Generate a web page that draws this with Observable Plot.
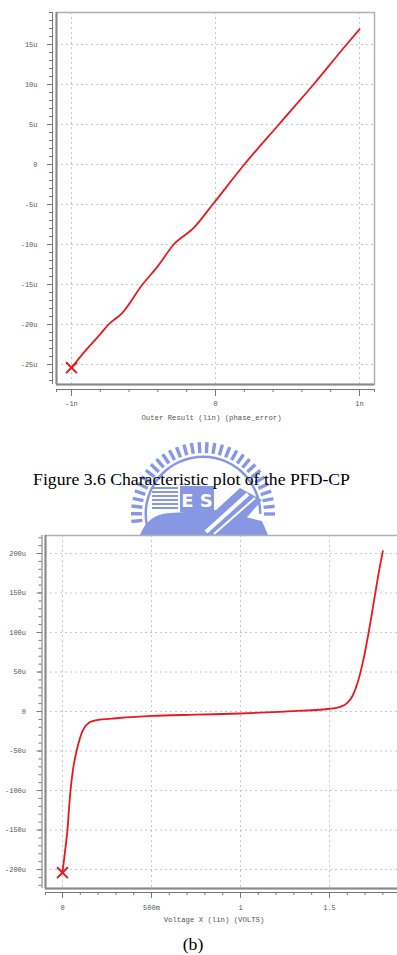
<!DOCTYPE html>
<html>
<head>
<meta charset="utf-8">
<script src="https://cdn.jsdelivr.net/npm/d3@7"></script>
<script src="https://cdn.jsdelivr.net/npm/@observablehq/plot@0.6"></script>
<style>
html, body { margin: 0; padding: 0; background: #fff; }
body { width: 397px; height: 955px; overflow: hidden; position: relative; }
#overlay { position: absolute; left: 0; top: 0; }
.chart { position: absolute; left: 0; }
</style>
</head>
<body>
<svg id="overlay" width="397" height="955"></svg>
<div id="topChart" class="chart" style="top:0px"></div>
<div id="botChart" class="chart" style="top:525px"></div>
<script>
// ---------- Data: top chart (PFD-CP characteristic) ----------
const topPhaseErr = [-1, -0.9, -0.8, -0.743, -0.65, -0.507, -0.4, -0.29, -0.15, -0.02, 0.2, 0.44, 0.68, 0.91, 1.0]; // n
const topCurrent  = [-25.4, -23.2, -21.2, -20, -18.6, -15, -12.7, -10, -7.9, -5, 0, 5, 10, 15, 16.9]; // u
const topXDomain = [-1.104, 1.104];
const topYDomain = [-27.5, 19];
const topXTicks = [-1, 0, 1];
const topXTickLabels = ["-1n", "0", "1n"];
const topYTicks = [15, 10, 5, 0, -5, -10, -15, -20, -25];
const topYTickLabels = ["15u", "10u", "5u", "0", "-5u", "-10u", "-15u", "-20u", "-25u"];
const topXTitle = "Outer Result (lin) (phase_error)";

// ---------- Data: bottom chart (b) ----------
const botVoltage = [0, 0.01, 0.02, 0.028, 0.036, 0.045, 0.058, 0.079, 0.095, 0.11, 0.13, 0.15, 0.18, 0.22, 0.3, 0.5, 0.75, 1.0, 1.25, 1.5, 1.56, 1.6, 1.63, 1.66, 1.69, 1.72, 1.75, 1.78, 1.80];
const botCurrent = [-204, -185, -166, -150, -125, -100, -75, -50, -36, -26, -18, -14, -11.5, -10, -8.5, -5.5, -4, -2.5, 0, 3.5, 6, 11, 20, 38, 65, 100, 140, 180, 203];
const botXDomain = [-0.0955, 1.899];
const botYDomain = [-224, 222.8];
const botXTicks = [0, 0.5, 1, 1.5];
const botXTickLabels = ["0", "500m", "1", "1.5"];
const botYTicks = [200, 150, 100, 50, 0, -50, -100, -150, -200];
const botYTickLabels = ["200u", "150u", "100u", "50u", "0", "-50u", "-100u", "-150u", "-200u"];
const botXTitle = "Voltage X (lin) (VOLTS)";

const captionTop = "Figure 3.6 Characteristic plot of the PFD-CP";
const captionBot = "(b)";

// ---------- Styles ----------
const RED = "#e8191e";
const GRID = "#c8c8c8";
const AXIS = "#777";
const LABEL = "#555";
const MONO = "'Liberation Mono', 'DejaVu Sans Mono', monospace";

function fmtMap(vals, labels) {
  const m = new Map(vals.map((v, i) => [v, labels[i]]));
  return d => m.get(d) ?? "";
}

function makeChart(cfg) {
  const data = cfg.xs.map((x, i) => ({x, y: cfg.ys[i]}));
  return Plot.plot({
    width: cfg.width, height: cfg.height,
    marginLeft: cfg.ml, marginRight: cfg.mr, marginTop: cfg.mt, marginBottom: cfg.mb,
    style: {background: "transparent", fontFamily: MONO, fontSize: "7px", color: LABEL, maxWidth: "none", overflow: "visible"},
    x: {domain: cfg.xDomain, axis: null, label: null},
    y: {domain: cfg.yDomain, axis: null, label: null},
    marks: [
      Plot.gridX(cfg.xTicks, {stroke: GRID, strokeOpacity: 1, strokeDasharray: "2,3"}),
      Plot.gridY(cfg.yTicks, {stroke: GRID, strokeOpacity: 1, strokeDasharray: "2,3"}),
      Plot.frame({stroke: "#b0b0b0", strokeWidth: 1.5}),
      Plot.ruleX([cfg.xDomain[0]], {stroke: "#8a8a8a", strokeWidth: 2}),
      Plot.ruleY([cfg.yDomain[0]], {stroke: "#8a8a8a", strokeWidth: 2}),
      // x axis (offset below frame)
      Plot.ruleY([cfg.yDomain[0]], {dy: cfg.xOff, stroke: AXIS, strokeWidth: 1}),
      Plot.axisX(cfg.xMinor, {anchor: "bottom", label: null, dy: cfg.xOff, tickSize: 3, stroke: AXIS, tickFormat: () => ""}),
      Plot.axisX(cfg.xTicks, {anchor: "bottom", label: null, dy: cfg.xOff, tickSize: cfg.xMajorSize, tickPadding: cfg.xPad, stroke: AXIS, fill: LABEL, fontSize: 7, tickFormat: fmtMap(cfg.xTicks, cfg.xLabels)}),
      // y axis (offset left of frame)
      Plot.ruleX([cfg.xDomain[0]], {dx: -cfg.yOff, stroke: AXIS, strokeWidth: 1}),
      Plot.axisY(cfg.yMinor, {anchor: "left", label: null, dx: -cfg.yOff, tickSize: 3, stroke: AXIS, tickFormat: () => ""}),
      Plot.axisY(cfg.yTicks, {anchor: "left", label: null, dx: -cfg.yOff, tickSize: 5, tickPadding: cfg.yPad, stroke: AXIS, fill: LABEL, fontSize: 7, tickFormat: fmtMap(cfg.yTicks, cfg.yLabels)}),
      // axis title
      Plot.text([cfg.xTitle], {frameAnchor: "bottom", dx: cfg.titleDx, dy: cfg.titleDy, lineAnchor: "middle", fill: LABEL, fontSize: 7.3, fontFamily: MONO}),
      // data
      Plot.line(data, {x: "x", y: "y", stroke: RED, strokeWidth: 1.8, curve: "monotone-x"}),
      Plot.dot([data[0]], {x: "x", y: "y", symbol: "times", r: 5, stroke: RED, strokeWidth: 2})
    ]
  });
}

const topMinor = [topXDomain[0], ...d3.range(-1, 1.0001, 0.2), topXDomain[1]];
document.getElementById("topChart").append(makeChart({
  xs: topPhaseErr, ys: topCurrent,
  width: 397, height: 425, ml: 56, mr: 23, mt: 12, mb: 41,
  xDomain: topXDomain, yDomain: topYDomain,
  xTicks: topXTicks, xLabels: topXTickLabels, xMinor: topMinor,
  yTicks: topYTicks, yLabels: topYTickLabels, yMinor: d3.range(-27, 19.5, 1),
  xOff: 5, xMajorSize: 7, xPad: 5, yOff: 4, yPad: 10,
  xTitle: topXTitle, titleDx: -4, titleDy: 33
}));

const botMinor = [botXDomain[0], ...d3.range(0, 1.9001, 0.1)];
document.getElementById("botChart").append(makeChart({
  xs: botVoltage, ys: botCurrent,
  width: 410, height: 405, ml: 45, mr: 10, mt: 10, mb: 42,
  xDomain: botXDomain, yDomain: botYDomain,
  xTicks: botXTicks, xLabels: botXTickLabels, xMinor: botMinor,
  yTicks: botYTicks, yLabels: botYTickLabels, yMinor: d3.range(-220, 221, 10),
  xOff: 4, xMajorSize: 6, xPad: 7, yOff: 3.5, yPad: 11,
  xTitle: botXTitle, titleDx: -9, titleDy: 31
}));

// ---------- Overlay: watermark logo + captions ----------
const ov = d3.select("#overlay");
const LOGO = "#8797e3";
const cx = 203, cy = 514;
const g = ov.append("g");
for (let a = 0; a <= 192; a += 6.2) {
  const r = a * Math.PI / 180;
  g.append("line")
    .attr("x1", cx + 61 * Math.cos(r)).attr("y1", cy - 61 * Math.sin(r))
    .attr("x2", cx + 72 * Math.cos(r)).attr("y2", cy - 72 * Math.sin(r))
    .attr("stroke", LOGO).attr("stroke-width", 3.4);
}
g.append("path").attr("d", d3.arc()({innerRadius: 56, outerRadius: 58.5, startAngle: -Math.PI / 2 - 0.2, endAngle: Math.PI / 2})).attr("transform", `translate(${cx},${cy})`).attr("fill", LOGO);
// lower mass
g.append("path").attr("d", "M140,535 Q148,514 170,513 L215,510 L262,521 L268,535 Z").attr("fill", LOGO);
// building stripes
for (let i = 0; i < 6; i++) {
  g.append("line").attr("x1", 152).attr("x2", 178).attr("y1", 488 + i * 4).attr("y2", 488 + i * 4).attr("stroke", LOGO).attr("stroke-width", 2);
}
g.append("rect").attr("x", 180).attr("y", 486).attr("width", 34).attr("height", 26).attr("fill", LOGO);
g.append("text").attr("x", 197).attr("y", 507).attr("text-anchor", "middle").attr("font-family", "DejaVu Sans").attr("font-size", 18).attr("font-weight", "bold").attr("fill", "#fff").text("E S");
g.append("path").attr("d", "M214,512 L240,488 L262,500 L236,530 Z").attr("fill", LOGO);
g.append("line").attr("x1", 206).attr("y1", 532).attr("x2", 248).attr("y2", 494).attr("stroke", "#fff").attr("stroke-width", 4);
g.append("line").attr("x1", 214).attr("y1", 534).attr("x2", 255).attr("y2", 498).attr("stroke", "#fff").attr("stroke-width", 2);

ov.append("text").attr("x", 191.5).attr("y", 485).attr("text-anchor", "middle")
  .attr("font-family", "'Liberation Serif', 'Times New Roman', serif").attr("font-size", 17.7).attr("fill", "#000").text(captionTop);
ov.append("text").attr("x", 193).attr("y", 950).attr("text-anchor", "middle")
  .attr("font-family", "'Liberation Serif', 'Times New Roman', serif").attr("font-size", 17.7).attr("fill", "#000").text(captionBot);
</script>
</body>
</html>
